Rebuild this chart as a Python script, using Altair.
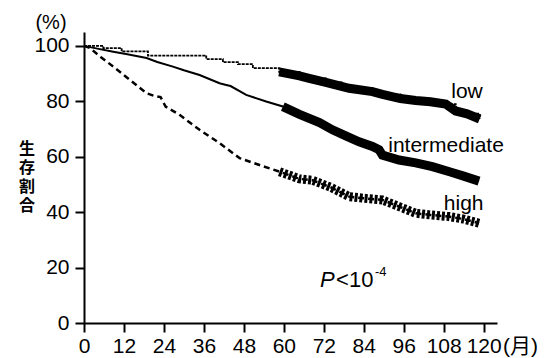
import altair as alt
import pandas as pd

# ---- data ----
x_ticks = [0, 12, 24, 36, 48, 60, 72, 84, 96, 108, 120]
y_ticks = [0, 20, 40, 60, 80, 100]

months_low = [0, 5.8, 11.3, 19.2, 36.7, 41.7, 46.2, 50.7, 58.6, 64.7, 67.6, 72.6,
              77.6, 79.6, 86.6, 89.6, 95, 99.6, 104, 108.6, 111.6, 115, 118.8]
surv_low = [100, 99.2, 98.0, 96.5, 95.2, 94.1, 93.4, 92.0, 90.6, 89.2, 88.3, 86.8,
            85.3, 84.7, 83.5, 82.5, 81.0, 80.3, 79.8, 79.0, 76.5, 75.5, 73.6]

months_mid = [0, 4, 8.8, 13, 18.8, 22, 26.7, 30, 34.7, 40.7, 42.7, 44, 48.7, 54.7,
              59.7, 64.7, 70.7, 74.6, 78.6, 82.6, 86.6, 88.6, 89.6, 94.6, 99.6,
              104.6, 110, 114, 118.6]
surv_mid = [100, 99.0, 97.9, 97.0, 95.6, 94.2, 92.5, 91.2, 89.5, 86.5, 85.9, 85.5,
            82.3, 79.9, 78.1, 75.3, 72.3, 69.7, 67.5, 65.4, 63.7, 62.5, 60.6, 58.8,
            57.8, 56.4, 54.5, 53.0, 51.2]

months_high = [0, 1.8, 5, 8.8, 13.8, 18.8, 21, 23, 24.5, 28.7, 34.7, 40.7, 46.7,
               52.7, 58.7, 64.7, 68.6, 74, 79.6, 84, 89.6, 94.6, 99.6, 104, 109.6,
               114, 118.6]
surv_high = [100, 99.2, 96.0, 92.5, 87.7, 82.9, 82.0, 81.5, 78.1, 75.1, 69.7, 64.9,
             59.5, 57.0, 54.6, 52.0, 51.5, 49.0, 45.6, 45.0, 44.4, 42.0, 39.6, 39.0,
             38.4, 37.5, 36.0]

labels = ["low", "intermediate", "high"]
label_month = [115, 108.7, 114]
label_surv = [83.4, 63.9, 43]

ytitle_chars = ["生", "存", "割", "合"]

frames = []
for g, m, s in [("low", months_low, surv_low), ("intermediate", months_mid, surv_mid),
                ("high", months_high, surv_high)]:
    frames.append(pd.DataFrame({"group": g, "month": m, "surv": s}))
df = pd.concat(frames, ignore_index=True)
lab_df = pd.DataFrame({"label": labels, "month": label_month, "surv": label_surv})
one = pd.DataFrame({"a": [0]})

FONT = "Liberation Sans"
CJK = "Liberation Sans, Noto Sans CJK JP"

xs = alt.X("month:Q", scale=alt.Scale(domain=[0, 124], nice=False),
           axis=alt.Axis(values=x_ticks, title=None, labelFlush=False, labelOverlap=False,
                         labelPadding=3))
ys = alt.Y("surv:Q", scale=alt.Scale(domain=[0, 105], nice=False),
           axis=alt.Axis(values=y_ticks, title=None, labelFlush=False, labelOverlap=False,
                         labelPadding=6))

base = alt.Chart(df)

low_thin = base.transform_filter(alt.datum.group == "low").mark_line(
    color="black", strokeWidth=1.8, strokeDash=[3, 1], interpolate="step-after"
).encode(x=xs, y=ys)
low_band = base.transform_filter(
    (alt.datum.group == "low") & (alt.datum.month >= 58)
).mark_line(color="black", strokeWidth=9).encode(x=xs, y=ys)

mid_line = base.transform_filter(alt.datum.group == "intermediate").mark_line(
    color="black", strokeWidth=2
).encode(x=xs, y=ys)
mid_band = base.transform_filter(
    (alt.datum.group == "intermediate") & (alt.datum.month >= 59)
).mark_line(color="black", strokeWidth=9).encode(x=xs, y=ys)

high_line = base.transform_filter(alt.datum.group == "high").mark_line(
    color="black", strokeWidth=2.5, strokeDash=[6, 4]
).encode(x=xs, y=ys)
high_band = base.transform_filter(
    (alt.datum.group == "high") & (alt.datum.month >= 58)
).mark_line(color="black", strokeWidth=9, strokeDash=[3, 2]).encode(x=xs, y=ys)

curve_labels = alt.Chart(lab_df).mark_text(
    font=FONT, fontSize=21, color="black"
).encode(x="month:Q", y="surv:Q", text="label:N")


def txt(text, x, y, size=21, align="left", baseline="alphabetic", style="normal",
        weight="normal", font=FONT):
    return alt.Chart(one).mark_text(
        font=font, fontSize=size, align=align, baseline=baseline, fontStyle=style,
        fontWeight=weight, text=text, color="black"
    ).encode(x=alt.value(x), y=alt.value(y))


p_parts = [
    txt("P", 236, 255, size=22, style="italic"),
    txt("<", 252, 255, size=22),
    txt("10", 265, 255, size=22),
    txt("-4", 291, 244, size=13),
]

pct = txt("(%)", -33, -9, size=20, align="center", baseline="middle")
month_unit = txt("(月)", 419, 315, size=21, baseline="middle", font=CJK)
ytitle = [txt(c, -57, yy, size=16, align="center", baseline="middle",
              weight="bold", font=CJK)
          for c, yy in zip(ytitle_chars, [117, 136, 155, 174])]

chart = alt.layer(
    low_thin, low_band, mid_line, mid_band, high_line, high_band,
    curve_labels, *p_parts, pct, month_unit, *ytitle
).properties(
    width=413, height=291,
    autosize=alt.AutoSizeParams(type="none"),
    padding={"left": 84, "top": 32, "right": 49, "bottom": 35},
    background="white",
).configure_view(stroke=None).configure_axis(
    labelFont=FONT, labelFontSize=21, labelColor="black",
    domainColor="black", domainWidth=2, tickColor="black", tickWidth=2, tickSize=9,
    grid=False,
)

chart.save("out.html", embed_options={"renderer": "svg", "actions": False})
